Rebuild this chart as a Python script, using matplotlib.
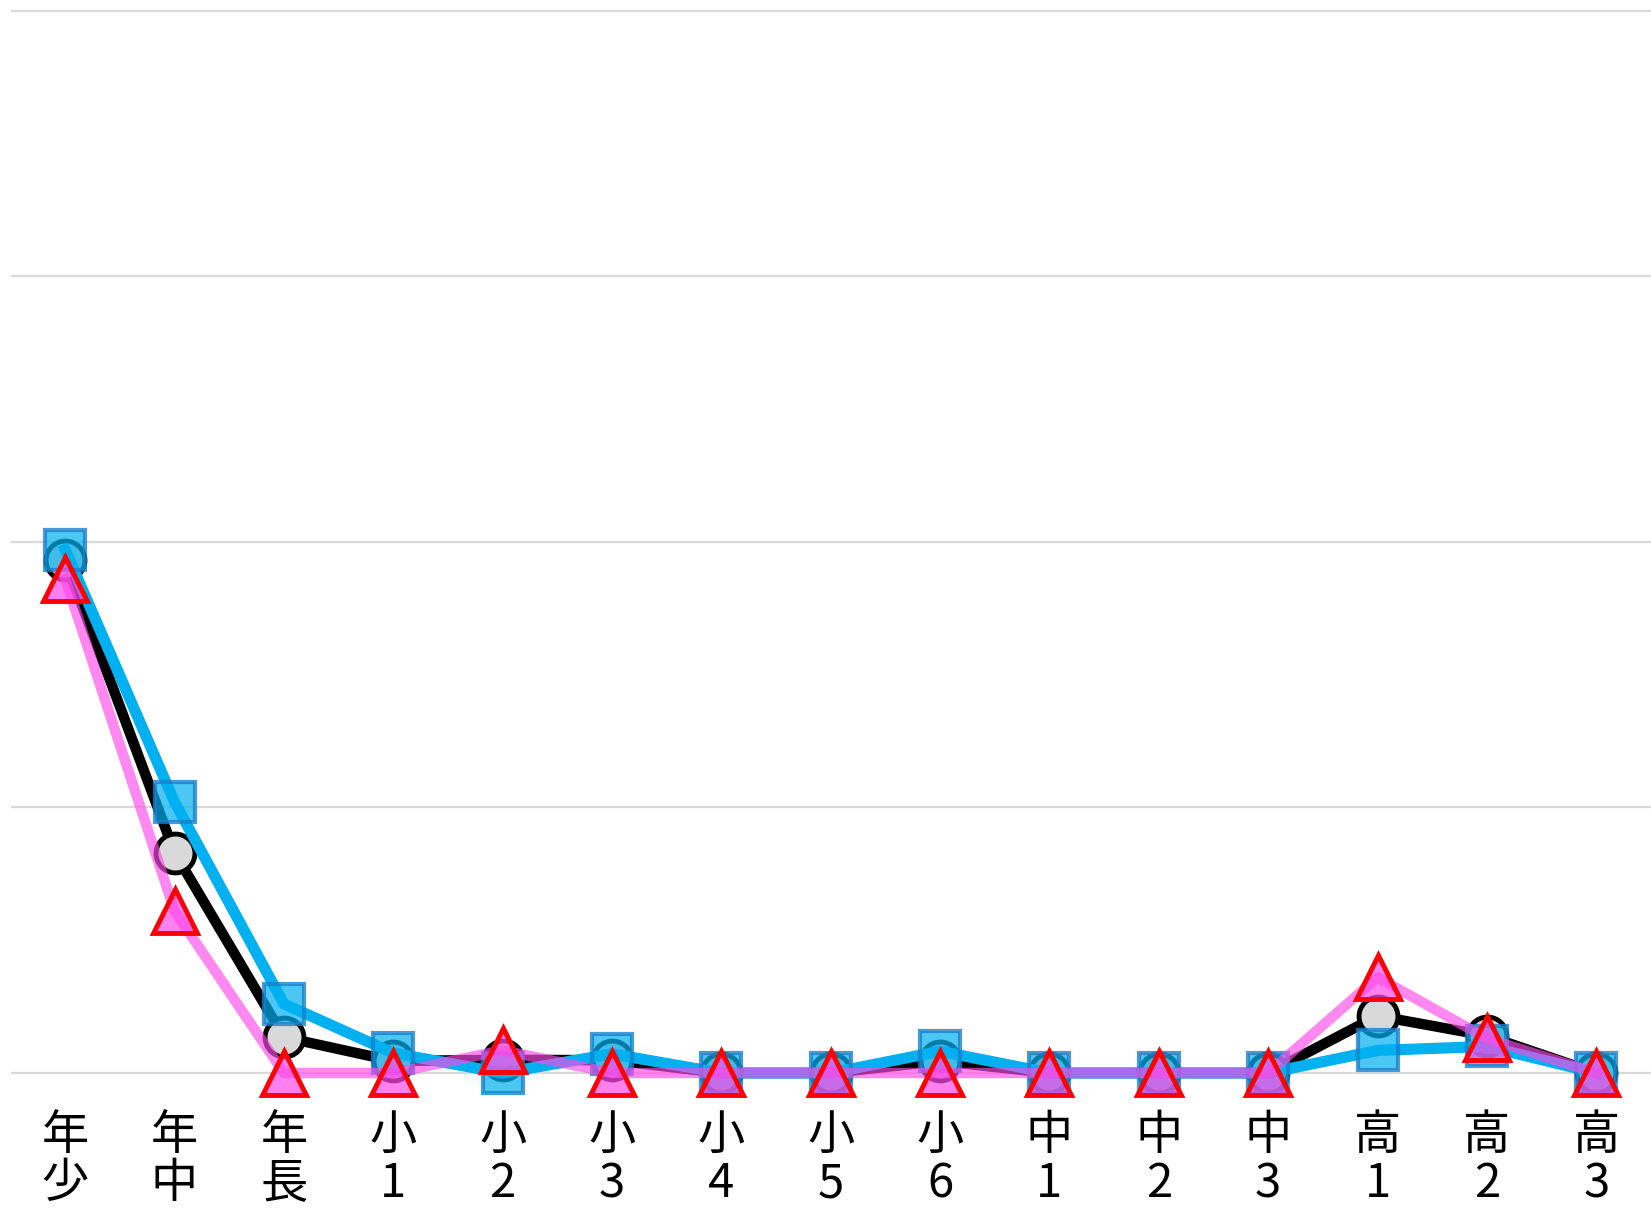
import matplotlib
matplotlib.use("Agg")
import matplotlib.pyplot as plt
import numpy as np

plt.rcParams['font.family'] = ['Noto Sans CJK JP', 'DejaVu Sans']

categories = ["年\n少", "年\n中", "年\n長", "小\n1", "小\n2", "小\n3", "小\n4", "小\n5",
              "小\n6", "中\n1", "中\n2", "中\n3", "高\n1", "高\n2", "高\n3"]
series_black = [19.3, 8.3, 1.35, 0.45, 0.5, 0.48, 0, 0, 0.45, 0, 0, 0, 2.15, 1.4, 0]
series_blue = [19.7, 10.2, 2.6, 0.75, 0, 0.72, 0, 0, 0.82, 0, 0, 0, 0.85, 1.0, 0]
series_pink = [18.6, 6.1, 0, 0, 0.85, 0, 0, 0, 0, 0, 0, 0, 3.6, 1.3, 0]
y_gridlines = [0, 10, 20, 30, 40]

W, H = 1651, 1212
fig = plt.figure(figsize=(W / 100, H / 100), dpi=100)
fig.patch.set_facecolor("white")

y0_px, y40_px = 1073, 10.5
ppu = (y0_px - y40_px) / 40.0
ylo, yhi = -0.4, 40.4
bottom_px = y0_px + (0 - ylo) * ppu
top_px = y40_px - (yhi - 40) * ppu
left_px = 10.5
ax = fig.add_axes([left_px / W, 1 - bottom_px / H, 1 - left_px / W, (bottom_px - top_px) / H])

x = np.arange(len(categories))

for g in y_gridlines:
    ax.axhline(g, color="#d9d9d9", lw=1.6, zorder=0)

ax.plot(x, series_black, color="black", lw=7.5, marker="o", ms=28,
        mfc="#d9d9d9", mec="black", mew=3.5, zorder=2, clip_on=False)
ax.plot(x, series_blue, color="#00b0f0", lw=8, marker="s", ms=29,
        mfc=(0.0, 0.69, 0.94, 0.7), mec=(0.1, 0.5, 0.8, 0.8), mew=3,
        zorder=3, clip_on=False)
ax.plot(x, series_pink, color=(1.0, 0.29, 0.91, 0.65), lw=7.5, marker="^", ms=31,
        mfc=(1.0, 0.29, 0.91, 0.7), mec="#ff0000", mew=3.5, zorder=4, clip_on=False)

ax.set_xlim(-0.5, len(categories) - 0.5)
ax.set_ylim(ylo, yhi)
ax.set_xticks(x)
ax.set_xticklabels(categories, fontsize=34, linespacing=1.0)
ax.tick_params(axis="x", length=0, pad=20)
ax.set_yticks([])
for s in ax.spines.values():
    s.set_visible(False)
ax.set_facecolor("none")

fig.savefig("out.png", dpi=100, facecolor="white")
